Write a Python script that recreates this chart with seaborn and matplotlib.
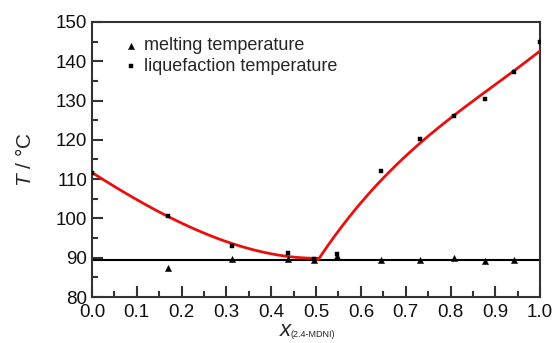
import matplotlib
matplotlib.use("Agg")
import matplotlib.pyplot as plt
import seaborn as sns

# ---- data ----
x_melt = [0.169, 0.312, 0.437, 0.495, 0.547, 0.644, 0.731, 0.807, 0.878, 0.941]
t_melt = [87.3, 89.6, 89.8, 89.5, 90.4, 89.5, 89.5, 90.0, 89.2, 89.3]

x_liq = [0.0, 0.169, 0.312, 0.437, 0.495, 0.547, 0.644, 0.731, 0.807, 0.878, 0.941, 1.0]
t_liq = [111.5, 100.5, 92.9, 91.2, 89.6, 90.9, 112.1, 120.2, 126.1, 130.5, 137.2, 144.8]

# liquidus curves (smoothed by regplot)
x_fit_left = [0.0, 0.05, 0.1, 0.15, 0.2, 0.25, 0.3, 0.35, 0.4, 0.45, 0.505]
t_fit_left = [111.5, 108.3, 105.0, 101.7, 98.7, 96.0, 94.0, 92.4, 91.2, 90.3, 89.7]
x_fit_right = [0.505, 0.55, 0.6, 0.65, 0.7, 0.75, 0.8, 0.85, 0.9, 0.95, 1.0]
t_fit_right = [89.7, 96.6, 103.8, 110.4, 116.0, 121.0, 125.5, 129.8, 134.0, 138.3, 142.7]

t_eutectic = 89.3

x_ticks = [0.0, 0.1, 0.2, 0.3, 0.4, 0.5, 0.6, 0.7, 0.8, 0.9, 1.0]
y_ticks = [80, 90, 100, 110, 120, 130, 140, 150]

# ---- style ----
sns.set_style("ticks")
plt.rcParams["font.family"] = ["Liberation Sans", "DejaVu Sans"]
plt.rcParams["mathtext.fontset"] = "custom"
plt.rcParams["mathtext.rm"] = "Liberation Sans"
plt.rcParams["mathtext.it"] = "Liberation Sans:italic"
plt.rcParams["axes.edgecolor"] = "#333333"
plt.rcParams["axes.linewidth"] = 1.5

fig = plt.figure(figsize=(5.54, 3.43), dpi=100)
ax = fig.add_axes([0.166, 0.134, 0.809, 0.802])

red = "#e8100f"
ax.axhline(t_eutectic, color="black", lw=1.5, zorder=2)
sns.regplot(x=x_fit_left, y=t_fit_left, ax=ax, order=3, ci=None, scatter=False,
            truncate=True, line_kws={"color": red, "lw": 2, "zorder": 3})
sns.regplot(x=x_fit_right, y=t_fit_right, ax=ax, order=3, ci=None, scatter=False,
            truncate=True, line_kws={"color": red, "lw": 2, "zorder": 3})

sns.scatterplot(x=x_melt, y=t_melt, ax=ax, marker="^", s=20, color="black",
                edgecolor="black", linewidth=0.3, label="melting temperature", zorder=4)
sns.scatterplot(x=x_liq, y=t_liq, ax=ax, marker="s", s=12, color="black",
                edgecolor="black", linewidth=0.3, label="liquefaction temperature", zorder=4)

ax.set_xlim(0, 1)
ax.set_ylim(80, 150)
ax.set_xticks(x_ticks)
ax.set_xticklabels([f"{v:.1f}" for v in x_ticks])
ax.set_yticks(y_ticks)
ax.set_xticks([0.05 + 0.1 * i for i in range(10)], minor=True)
ax.set_yticks([85 + 10 * i for i in range(7)], minor=True)
ax.tick_params(which="major", direction="in", length=8, width=1.5, labelsize=13.5,
               color="#333333", labelcolor="#111111")
ax.tick_params(which="minor", direction="in", length=4, width=1.5, color="#333333")
ax.tick_params(axis="x", which="major", pad=5)
ax.tick_params(axis="y", which="major", pad=3.5)
ax.tick_params(top=False, right=False)

# axis labels
ax.set_xlabel("")
ax.set_ylabel(r"$T$ / °C", fontsize=15, labelpad=15)
ax.text(0.42, -0.14, "x", transform=ax.transAxes, fontsize=16, style="italic",
        ha="left", va="baseline")
ax.text(0.443, -0.147, "(2.4-MDNI)", transform=ax.transAxes, fontsize=6.5,
        ha="left", va="baseline")

ax.legend(loc="upper left", bbox_to_anchor=(0.035, 0.99), frameon=False, fontsize=13,
          handletextpad=0.1, labelspacing=0.2, handlelength=1.2, borderpad=0.2)

fig.savefig("out.png", dpi=100)
